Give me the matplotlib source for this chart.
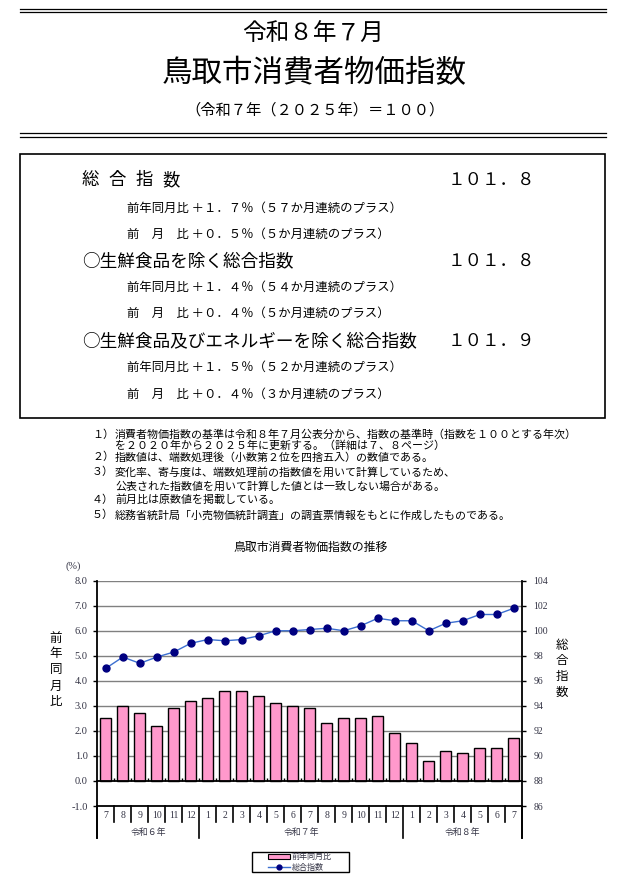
import matplotlib
matplotlib.use("Agg")
import matplotlib.pyplot as plt
import numpy as np
from matplotlib.patches import Rectangle, Patch
from matplotlib.lines import Line2D

plt.rcParams['font.family'] = ['Noto Sans CJK JP', 'DejaVu Sans']

# ---------------- data ----------------
months = ['7', '8', '9', '10', '11', '12',
          '1', '2', '3', '4', '5', '6', '7', '8', '9', '10', '11', '12',
          '1', '2', '3', '4', '5', '6', '7']
year_groups = ['令和６年', '令和７年', '令和８年']
year_counts = [6, 12, 7]
yoy = [2.5, 3.0, 2.7, 2.2, 2.9, 3.2,
       3.3, 3.6, 3.6, 3.4, 3.1, 3.0, 2.9, 2.3, 2.5, 2.5, 2.6, 1.9,
       1.5, 0.8, 1.2, 1.1, 1.3, 1.3, 1.7]
cpi = [97.0, 97.9, 97.4, 97.9, 98.3, 99.0,
       99.3, 99.2, 99.3, 99.6, 100.0, 100.0, 100.1, 100.2, 100.0, 100.4, 101.0, 100.8,
       100.8, 100.0, 100.6, 100.8, 101.3, 101.3, 101.8]
left_ticks = [8.0, 7.0, 6.0, 5.0, 4.0, 3.0, 2.0, 1.0, 0.0, -1.0]
right_ticks = [104, 102, 100, 98, 96, 94, 92, 90, 88, 86]

# ---------------- figure ----------------
W, H = 628, 881
fig = plt.figure(figsize=(W / 100, H / 100), dpi=100)
fig.patch.set_facecolor('white')


def T(x, y, s, size, ha='left', **kw):
    fig.text(x / W, 1 - y / H, s, fontsize=size, ha=ha, va='center', **kw)


def HL(x0, x1, y, lw=0.9):
    fig.add_artist(Line2D([x0 / W, x1 / W], [1 - y / H, 1 - y / H],
                          transform=fig.transFigure, color='black', lw=lw))


# header lines
HL(20, 606, 8.5)
HL(20, 606, 11.8)
HL(20, 606, 133.3)
HL(20, 606, 136.6)

T(313, 34, '令和８年７月', 17, ha='center')
T(314, 74, '鳥取市消費者物価指数', 22, ha='center')
T(315, 110, '（令和７年（２０２５年）＝１００）', 11, ha='center')

# summary box
fig.add_artist(Rectangle((20 / W, 1 - 418 / H), 585 / W, 264 / H,
                         transform=fig.transFigure, fill=False, lw=1.2, ec='black'))

for i, ch in enumerate('総合指数'):
    T(82 + i * 26.7, 180, ch, 12.5)
T(448, 180, '１０１．８', 12.6)
sfs = 8.9
T(127, 208, '前年同月比 ＋１．７％（５７か月連続のプラス）', sfs)
T(127, 234, '前　月　比 ＋０．５％（５か月連続のプラス）', sfs)
T(82, 261, '○生鮮食品を除く総合指数', 12.7)
T(448, 261, '１０１．８', 12.6)
T(127, 287, '前年同月比 ＋１．４％（５４か月連続のプラス）', sfs)
T(127, 313, '前　月　比 ＋０．４％（５か月連続のプラス）', sfs)
T(82, 341, '○生鮮食品及びエネルギーを除く総合指数', 12.7)
T(448, 341, '１０１．９', 12.6)
T(127, 367, '前年同月比 ＋１．５％（５２か月連続のプラス）', sfs)
T(127, 394, '前　月　比 ＋０．４％（３か月連続のプラス）', sfs)

# notes
nfs = 7.9
T(92, 435, '１）', nfs)
T(115, 435, '消費者物価指数の基準は令和８年７月公表分から、指数の基準時（指数を１００とする年次）', nfs)
T(115, 446, 'を２０２０年から２０２５年に更新する。（詳細は７、８ページ）', nfs)
T(92, 457, '２）', nfs)
T(115, 457, '指数値は、端数処理後（小数第２位を四捨五入）の数値である。', nfs)
T(92, 472, '３）', nfs)
T(115, 472, '変化率、寄与度は、端数処理前の指数値を用いて計算しているため、', nfs)
T(115, 486, '公表された指数値を用いて計算した値とは一致しない場合がある。', nfs)
T(92, 500, '４）', nfs)
T(115, 500, '前月比は原数値を掲載している。', nfs)
T(92, 515, '５）', nfs)
T(115, 515, '総務省統計局「小売物価統計調査」の調査票情報をもとに作成したものである。', nfs)

# chart title and axis labels
T(311, 547, '鳥取市消費者物価指数の推移', 8.6, ha='center')
T(73, 566, '(%)', 7.5, ha='center', family=['Liberation Serif'], color='#333344')
for i, ch in enumerate('前年同月比'):
    T(56, 638 + i * 16, ch, 9, ha='center')
for i, ch in enumerate('総合指数'):
    T(562, 645 + i * 15.7, ch, 9, ha='center')

# ---------------- chart ----------------
ax_l, ax_r, ax_t, ax_b = 97.3, 522.3, 580.7, 806.0
ax = fig.add_axes([ax_l / W, 1 - ax_b / H, (ax_r - ax_l) / W, (ax_b - ax_t) / H])
x = np.arange(len(months))
ax.bar(x, yoy, width=0.64, color='#FF99CC', edgecolor='black', linewidth=1.0, zorder=3)
ax.set_xlim(-0.5, len(months) - 0.5)
ax.set_ylim(-1.0, 8.0)
ax.set_yticks(left_ticks)
ax.set_yticklabels([f'{v:.1f}' for v in left_ticks], family=['Liberation Serif'],
                   fontsize=7.5, color='#333344')
for v in left_ticks:
    if v > 0:
        ax.axhline(v, color='#808080', lw=1.0, zorder=1)
ax.axhline(-1.0, color='black', lw=1.3, zorder=4, clip_on=False)
ax.tick_params(axis='y', direction='out', length=3, width=1.0, pad=4)
# category axis at 0 with inner ticks at slot boundaries
ax.spines['bottom'].set_position(('data', 0))
ax.spines['bottom'].set_linewidth(1.3)
ax.spines['bottom'].set_zorder(4)
ax.set_xticks(np.arange(0.5, len(months) - 1, 1.0))
ax.tick_params(axis='x', direction='in', length=2.5, width=1.0, labelbottom=False)
ax.spines['top'].set_visible(False)
ax.spines['right'].set_visible(False)
ax.spines['left'].set_linewidth(1.3)

# month labels and separators
tr = ax.get_xaxis_transform()
axh = ax_b - ax_t
y_month = -(816 - ax_b) / axh
y_group = -(832 - ax_b) / axh
y_short = -(822 - ax_b) / axh
y_long = -(838 - ax_b) / axh
for i, m in enumerate(months):
    ax.text(i, y_month, m, transform=tr, ha='center', va='center', fontsize=7,
            family=['Liberation Serif'], color='#333344')
bounds = np.cumsum([0] + year_counts) - 0.5
for k in range(len(months) + 1):
    b = k - 0.5
    yb = y_long if np.any(np.isclose(bounds, b)) else y_short
    ax.plot([b, b], [0, yb], transform=tr, color='black', lw=1.2, clip_on=False)
for g, c0, n in zip(year_groups, np.cumsum([0] + year_counts[:-1]), year_counts):
    ax.text(c0 + (n - 1) / 2, y_group, g, transform=tr, ha='center', va='center',
            fontsize=6.4, color='#333344')

# right axis: CPI line
ax2 = ax.twinx()
ax2.plot(x, cpi, color='#3C6FD0', lw=1.0, marker='o', markersize=5,
         markerfacecolor='#000080', markeredgecolor='#000080', zorder=5)
ax2.set_ylim(86, 104)
ax2.set_yticks(right_ticks)
ax2.set_yticklabels([str(v) for v in right_ticks], family=['Liberation Serif'],
                    fontsize=7, color='#333344')
ax2.tick_params(axis='y', direction='out', length=3, width=1.0, pad=5)
for s in ['left', 'top', 'bottom']:
    ax2.spines[s].set_visible(False)
ax2.spines['right'].set_linewidth(1.3)

# extend the left and right frame lines down under the labels
for b in [-0.5, len(months) - 0.5]:
    ax.plot([b, b], [0, y_long], transform=tr, color='black', lw=1.3, clip_on=False)

# legend (frame drawn separately to match the wide box)
fig.add_artist(Rectangle((251.7 / W, 1 - 872.3 / H), 97.6 / W, 20.6 / H,
                         transform=fig.transFigure, fill=False, lw=1.0, ec='black'))
handles = [Patch(facecolor='#FF99CC', edgecolor='black', linewidth=0.8),
           Line2D([], [], color='#3C6FD0', lw=1.0, marker='o', markersize=3.5,
                  markerfacecolor='#000080', markeredgecolor='#000080')]
leg = fig.legend(handles, ['前年同月比', '総合指数'], loc='center left',
                 bbox_to_anchor=(268 / W, 1 - 862 / H), fontsize=5.8,
                 frameon=False, handlelength=2.7, handleheight=0.5, handletextpad=0.25,
                 labelspacing=0.2, borderpad=0, borderaxespad=0)
for t in leg.get_texts():
    t.set_color('#333344')

fig.savefig('out.png', dpi=100, facecolor='white')
